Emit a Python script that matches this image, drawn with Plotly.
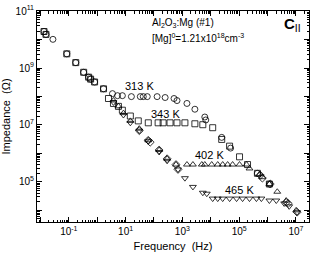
import plotly.graph_objects as go

# ---- data (Hz, Ohm) ----
f_313 = [0.0134, 0.0157, 0.0276, 0.085, 0.176, 0.334, 0.5, 0.587, 0.81, 1.67,
         3.45, 5.2, 7.7, 16, 33, 42, 58, 129, 247, 508, 647, 1450, 2760, 6170, 6680,
         24300, 50000, 4.4e5, 1.16e6]
z_313 = [1.92e10, 1.52e10, 1.02e10, 3.15e9, 1.55e9, 7.1e8, 4.78e8, 4.08e8, 3.23e8, 1.86e8,
         1.26e8, 1.07e8, 1.07e8, 9.9e7, 9.9e7, 9.9e7, 9.9e7, 9.9e7, 9.2e7, 8.5e7, 7.2e7,
         5.7e7, 3.57e7, 1.9e7, 1.5e7, 3.66e6, 1.54e6, 2.0e5, 8.4e4]

f_343 = [0.0134, 0.0157, 0.085, 0.176, 0.334, 0.5, 0.587, 0.81, 1.67, 2.5, 3.74, 5.6,
         7.7, 14.7, 28, 63, 140, 210, 368, 647, 1230, 2760, 5250, 11700, 24300, 46000,
         1.03e5, 1.97e5, 4.4e5, 1.16e6]
z_343 = [1.92e10, 1.52e10, 3.15e9, 1.55e9, 7.1e8, 4.78e8, 4.08e8, 3.23e8, 1.86e8, 8.5e7,
         5.7e7, 4.5e7, 3.3e7, 2.06e7, 1.39e7, 1.19e7, 1.19e7, 1.19e7, 1.19e7, 1.19e7,
         1.19e7, 1.1e7, 1.02e7, 8.0e6, 3.1e6, 1.8e6, 7.6e5, 4.06e5, 2.0e5, 8.4e4]

f_402 = [3.74, 5.6, 8.4, 14.7, 30.4, 62.7, 152, 290, 597, 1450, 2350, 4840, 6170,
         10800, 17600, 26300, 39300, 58800, 1.03e5, 1.82e5, 2.31e5, 5.17e5, 6.58e5,
         1.16e6, 2.2e6, 4.54e6, 1.02e7]
z_402 = [7.24e7, 4.52e7, 2.6e7, 1.39e7, 7.4e6, 2.89e6, 1.32e6, 6.5e5, 4.06e5, 4.06e5,
         4.06e5, 4.06e5, 4.06e5, 4.06e5, 4.06e5, 4.06e5, 4.06e5, 4.06e5, 4.06e5, 4.06e5,
         2.96e5, 1.85e5, 1.46e5, 8.4e4, 4.5e4, 2.2e4, 1.0e4]

f_465 = [3.74, 8.4, 14.7, 30.4, 62.7, 152, 290, 701, 1230, 2350, 5250, 7240, 11700,
         17600, 26300, 46100, 81100, 1.32e5, 2.31e5, 4.06e5, 6.07e5, 1.16e6, 2.03e6,
         3.86e6, 5.78e6, 1.1e7]
z_465 = [6.2e7, 2.23e7, 1.19e7, 6.3e6, 2.67e6, 1.12e6, 5.5e5, 2.73e5, 1.35e5, 6.65e4,
         4.15e4, 3.84e4, 2.59e4, 2.59e4, 2.59e4, 2.59e4, 2.59e4, 2.59e4, 2.59e4, 2.59e4,
         2.59e4, 2.21e4, 2.21e4, 1.75e4, 1.38e4, 8.6e3]

f_dia = [30.4, 62.7, 73.6, 152, 290, 597, 701, 5.6e5, 6.58e5, 1.25e6, 4.54e6, 5.33e6, 1.1e7]
z_dia = [6.3e6, 2.89e6, 2.47e6, 1.32e6, 6.5e5, 4.06e5, 2.73e5, 1.71e5, 1.35e5, 8.4e4,
         1.89e4, 1.75e4, 8.6e3]

series = [
    ("313 K", f_313, z_313, "circle-open"),
    ("343 K", f_343, z_343, "square-open"),
    ("402 K", f_402, z_402, "triangle-up-open"),
    ("465 K", f_465, z_465, "triangle-down-open"),
    ("", f_dia, z_dia, "diamond-open"),
]

x_major_exp = list(range(-2, 8))
y_major_exp = list(range(4, 12))
x_label_exp = [-1, 1, 3, 5, 7]
y_label_exp = [5, 7, 9, 11]

FONT = "Liberation Sans, Arial, sans-serif"

fig = go.Figure()
for name, fx, zy, sym in series:
    fig.add_trace(go.Scatter(
        x=fx, y=zy, mode="markers", name=name, showlegend=False,
        marker=dict(symbol=sym, size=6, color="black", line=dict(width=0.8, color="black")),
    ))


def major(exps, labeled):
    vals = [10.0 ** e for e in exps]
    text = [f"10<sup>{e}</sup>" if e in labeled else "" for e in exps]
    return vals, text


def minor(exps):
    return [m * 10.0 ** e for e in [exps[0] - 1] + exps for m in range(2, 10)]


xv, xt = major(x_major_exp, x_label_exp)
yv, yt = major(y_major_exp, y_label_exp)

axis_common = dict(
    type="log", showgrid=False, zeroline=False, showline=True, linecolor="black",
    linewidth=1, mirror="allticks", ticks="inside", ticklen=5, tickwidth=1,
    tickcolor="black", tickmode="array", ticklabeloverflow="allow",
    tickfont=dict(family=FONT, size=10, color="black"),
)

fig.update_xaxes(
    **axis_common, range=[-2.12, 7.46], tickvals=xv, ticktext=xt,
    minor=dict(tickmode="array", tickvals=minor(x_major_exp), ticks="inside",
               ticklen=2.5, tickcolor="black", tickwidth=1),
    title=dict(text="Frequency  (Hz)", font=dict(family=FONT, size=11, color="black"),
               standoff=6),
)
fig.update_yaxes(
    **axis_common, range=[3.59, 11.004], tickvals=yv, ticktext=yt,
    minor=dict(tickmode="array", tickvals=minor(y_major_exp), ticks="inside",
               ticklen=2.5, tickcolor="black", tickwidth=1),
    title=dict(text="Impedance  (Ω)", font=dict(family=FONT, size=11, color="black"),
               standoff=4),
)

L, R, T, B = 36, 4, 5, 41
W, H = 314, 263
pw, ph = W - L - R, H - T - B


def px(x, y):
    return (x - L) / pw, 1 - (y - T) / ph


annots = [
    ("313 K", 139, 82, "center", 11),
    ("343 K", 165, 111, "center", 11),
    ("402 K", 210, 153, "center", 11),
    ("465 K", 240, 189, "center", 11),
]
for text, x, y, anc, size in annots:
    ax, ay = px(x, y)
    fig.add_annotation(x=ax, y=ay, xref="paper", yref="paper", text=text, showarrow=False,
                       xanchor=anc, yanchor="middle",
                       font=dict(family=FONT, size=size, color="black"))

ax, ay = px(150, 17)
fig.add_annotation(x=ax, y=ay, xref="paper", yref="paper",
                   text="Al<sub>2</sub>O<sub>3</sub>:Mg (#1)", showarrow=False,
                   xanchor="left", yanchor="middle",
                   font=dict(family=FONT, size=10, color="black"))
ax, ay = px(150, 33)
fig.add_annotation(x=ax, y=ay, xref="paper", yref="paper",
                   text="[Mg]<sup>0</sup>=1.21x10<sup>18</sup>cm<sup>-3</sup>", showarrow=False,
                   xanchor="left", yanchor="middle",
                   font=dict(family=FONT, size=10, color="black"))
ax, ay = px(283, 19)
fig.add_annotation(x=ax, y=ay, xref="paper", yref="paper",
                   text="<b>C</b><sub>II</sub>", showarrow=False,
                   xanchor="left", yanchor="middle",
                   font=dict(family=FONT, size=15, color="black"))

fig.update_layout(
    width=W, height=H, margin=dict(l=L, r=R, t=T, b=B),
    paper_bgcolor="white", plot_bgcolor="white",
    font=dict(family=FONT, color="black"),
)

fig.write_html(
    "out.html",
    config={"displayModeBar": False, "staticPlot": True},
    post_script="document.body.style.margin='0';document.body.style.padding='0';"
                "document.documentElement.style.overflow='hidden';",
)
